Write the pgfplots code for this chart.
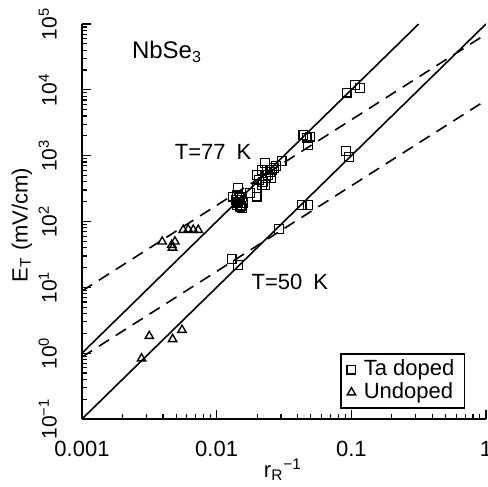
\documentclass[border=0pt]{standalone}
\usepackage{fontspec}
\setmainfont{Liberation Sans}
\usepackage{pgfplots}
\pgfplotsset{compat=1.18}

% Ta doped samples (77 K and 50 K)
\pgfplotstableread{
x y
0.01327 239
0.01446 321
0.01446 200
0.0149 168
0.0139 213
0.01535 159
0.01415 179
0.0154 237
0.0157 192
0.0145 190
0.0150 210
0.0148 230
0.0142 250
0.0152 175
0.01766 272
0.0198 239
0.0198 321
0.0198 511
0.0216 608
0.0228 769
0.0304 834
0.0221 400
0.0232 460
0.0240 511
0.0249 567
0.0258 608
0.0266 653
0.0275 700
0.0236 608
0.0253 460
0.0228 360
0.0206 428
0.0217 360
0.0440 2070
0.0493 1950
0.0479 1427
0.0466 1866
0.0923 9100
0.1064 11900
0.1158 10600
0.0129 26.7
0.01445 21.9
0.0290 77
0.0428 178.6
0.0479 178.6
0.0912 1183
0.0965 949
}\tadoped

% undoped samples
\pgfplotstableread{
x y
0.00394 49.5
0.00464 44
0.0047 40
0.0049 49.5
0.00565 74.5
0.00615 76
0.0067 74.5
0.0073 74.5
0.00316 1.82
0.00277 0.83
0.00471 1.63
0.00553 2.25
}\undoped

\begin{document}
\begin{tikzpicture}
\begin{axis}[
    scale only axis,
    width=202pt, height=197.5pt,
    xmode=log, ymode=log,
    xmin=0.001, xmax=1, ymin=0.1, ymax=1e5,
    axis x line*=bottom, axis y line*=left,
    axis line style={-, line width=0.8pt},
    tick align=inside,
    tick style={black, line width=0.6pt},
    major tick length=4.5pt, minor tick length=2.5pt,
    xtick={0.001,0.01,0.1,1},
    xticklabels={0.001,0.01,0.1,1},
    minor xtick={0.002,0.003,0.004,0.005,0.006,0.007,0.008,0.009,
                 0.02,0.03,0.04,0.05,0.06,0.07,0.08,0.09,
                 0.2,0.3,0.4,0.5,0.6,0.7,0.8,0.9},
    ytick={0.1,1,10,100,1000,10000,100000},
    yticklabels={10\textsuperscript{−1},10\textsuperscript{0},10\textsuperscript{1},10\textsuperscript{2},10\textsuperscript{3},10\textsuperscript{4},10\textsuperscript{5}},
    minor ytick={0.2,0.3,0.4,0.5,0.6,0.7,0.8,0.9,
                 2,3,4,5,6,7,8,9,20,30,40,50,60,70,80,90,
                 200,300,400,500,600,700,800,900,
                 2000,3000,4000,5000,6000,7000,8000,9000,
                 20000,30000,40000,50000,60000,70000,80000,90000},
    xticklabel style={font=\fontsize{11}{13}\selectfont, yshift=-7.5pt},
    yticklabel style={font=\fontsize{10.5}{12}\selectfont, rotate=90, anchor=south, yshift=9pt},
    legend style={at={(rel axis cs:0.948,0.166)}, anchor=north east,
        draw=black, line width=0.6pt, font=\fontsize{11}{13}\selectfont,
        inner xsep=3pt, inner ysep=1pt, row sep=-2pt},
    legend cell align=left,
]

% fitted lines
\addplot[black, line width=0.8pt, forget plot] coordinates {(0.001,1) (0.3162,100000)};
\addplot[black, line width=0.8pt, forget plot] coordinates {(0.001,0.1) (1,100000)};
\addplot[black, line width=0.8pt, dash pattern=on 6pt off 4pt, forget plot] coordinates {(0.001,8.8) (1,70000)};
\addplot[black, line width=0.8pt, dash pattern=on 6pt off 4pt, forget plot] coordinates {(0.001,0.875) (1,6950)};

\addplot[only marks, mark=square, mark size=2.2pt, mark options={line width=0.6pt, fill=white}] table[x=x,y=y] {\tadoped};
\addlegendentry{\hspace{2pt}Ta doped}
\addplot[only marks, mark=triangle, mark size=2.4pt, mark options={line width=0.7pt}] table[x=x,y=y] {\undoped};
\addlegendentry{\hspace{2pt}Undoped}

\node[font=\fontsize{12}{14}\selectfont] at (axis cs:0.00428,37800) {NbSe\textsubscript{3}};
\node[font=\fontsize{11}{13}\selectfont] at (axis cs:0.0094,1143) {T=77\enspace K};
\node[font=\fontsize{11}{13}\selectfont] at (axis cs:0.035,12.1) {T=50\enspace K};
\end{axis}

\node[rotate=90, font=\fontsize{11}{13}\selectfont] at (-30pt,97pt) {E\textsubscript{T} (mV/cm)};
\node[font=\fontsize{11}{13}\selectfont] at (100.5pt,-25.5pt) {r\textsubscript{R}\textsuperscript{−1}};

\pgfresetboundingbox
\useasboundingbox (-41pt,-34pt) rectangle (203pt,209.5pt);
\end{tikzpicture}
\end{document}
